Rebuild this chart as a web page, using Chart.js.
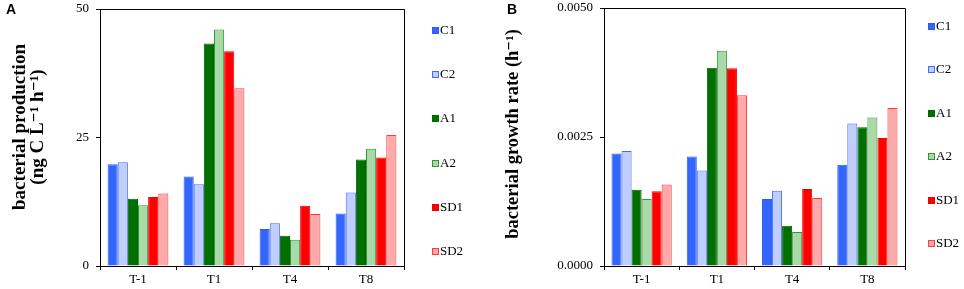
<!DOCTYPE html>
<html>
<head>
<meta charset="utf-8">
<script src="https://cdn.jsdelivr.net/npm/chart.js@4/dist/chart.umd.min.js"></script>
<style>
  html, body { margin: 0; padding: 0; background: #fff; }
  #wrap { position: relative; width: 964px; height: 289px; overflow: hidden; }
  canvas { position: absolute; top: 0; }
</style>
</head>
<body>
<div id="wrap">
  <canvas id="chartA" width="480" height="289" style="left:0px"></canvas>
  <canvas id="chartB" width="484" height="289" style="left:480px"></canvas>
</div>
<script>
// ---- data ----
const categories = ['T-1', 'T1', 'T4', 'T8'];
const seriesNames = ['C1', 'C2', 'A1', 'A2', 'SD1', 'SD2'];

// Panel A: bacterial production (ng C L-1 h-1)
const prodC1  = [19.8, 17.4, 7.2, 10.2];
const prodC2  = [20.2, 15.9, 8.3, 14.3];
const prodA1  = [13.1, 43.3, 5.9, 20.7];
const prodA2  = [11.8, 46.0, 5.1, 22.8];
const prodSD1 = [13.4, 41.8, 11.7, 21.1];
const prodSD2 = [14.1, 34.6, 10.1, 25.5];
const prodTicks = [0, 25, 50];
const prodTitle = ['bacterial production', '(ng C L\u207B\u00B9 h\u207B\u00B9)'];

// Panel B: bacterial growth rate (h-1)
const rateC1  = [0.00218, 0.00212, 0.00130, 0.00196];
const rateC2  = [0.00223, 0.00185, 0.00146, 0.00276];
const rateA1  = [0.00148, 0.00384, 0.00078, 0.00269];
const rateA2  = [0.00130, 0.00417, 0.00066, 0.00288];
const rateSD1 = [0.00145, 0.00383, 0.00149, 0.00248];
const rateSD2 = [0.00158, 0.00331, 0.00132, 0.00306];
const rateTicks = [0, 0.0025, 0.005];
const rateTitle = ['bacterial growth rate (h\u207B\u00B9)'];

// ---- styles ----
const fills   = ['#3366ff', '#c0cdff', '#007000', '#a9d8a9', '#ff0000', '#ffaaaa'];
const borders = ['#2b5cf0', '#3d6cff', '#006400', '#2f9a2f', '#f00000', '#ff3b3b'];
const serif = "'Liberation Serif', 'Times New Roman', 'DejaVu Serif', serif";

function makeDatasets(seriesValues) {
  return seriesValues.map((vals, i) => ({
    label: seriesNames[i],
    data: vals,
    backgroundColor: fills[i],
    borderColor: borders[i],
    borderWidth: 1,
    categoryPercentage: 0.8,
    barPercentage: 1.0
  }));
}

// frame + axis title + custom legend + panel letter
const decorPlugin = {
  id: 'decor',
  afterDraw(chart, args, opts) {
    const ctx = chart.ctx;
    const a = chart.chartArea;
    ctx.save();
    ctx.strokeStyle = '#000';
    ctx.lineWidth = 1;
    ctx.beginPath();
    ctx.moveTo(Math.round(a.left) + 0.5, Math.round(a.top) + 0.5);
    ctx.lineTo(Math.round(a.right) + 0.5, Math.round(a.top) + 0.5);
    ctx.lineTo(Math.round(a.right) + 0.5, Math.round(a.bottom) + 0.5);
    ctx.stroke();
    // rotated y-axis title
    ctx.save();
    ctx.font = 'bold ' + opts.titleSize + 'px ' + serif;
    ctx.fillStyle = '#000';
    ctx.textAlign = 'center';
    ctx.textBaseline = 'middle';
    opts.title.forEach((line, i) => {
      ctx.save();
      ctx.translate(opts.titleX + i * opts.titleStep, opts.titleY);
      ctx.rotate(-Math.PI / 2);
      ctx.fillText(line, 0, 0);
      ctx.restore();
    });
    ctx.restore();
    // legend
    ctx.font = '13px ' + serif;
    ctx.textBaseline = 'middle';
    ctx.textAlign = 'left';
    chart.data.datasets.forEach((ds, i) => {
      const y = Math.round(opts.y0 + i * opts.step);
      const x = opts.x;
      ctx.fillStyle = ds.backgroundColor;
      ctx.fillRect(x, y - 4, 7, 7);
      ctx.strokeStyle = ds.borderColor;
      ctx.strokeRect(x + 0.5, y - 3.5, 6, 6);
      ctx.fillStyle = '#000';
      ctx.fillText(ds.label, x + 8, y);
    });
    ctx.font = "bold 14px 'Liberation Sans', Arial, sans-serif";
    ctx.textBaseline = 'alphabetic';
    ctx.fillStyle = '#000';
    ctx.fillText(opts.letter, opts.letterX, 14);
    ctx.restore();
  }
};

function makeChart(id, seriesValues, yMax, tickVals, tickFmt, axisW, pad, decor) {
  return new Chart(document.getElementById(id), {
    type: 'bar',
    data: { labels: categories, datasets: makeDatasets(seriesValues) },
    plugins: [decorPlugin],
    options: {
      responsive: false,
      animation: false,
      devicePixelRatio: 1,
      layout: { padding: pad },
      plugins: {
        legend: { display: false },
        tooltip: { enabled: false },
        decor: decor
      },
      scales: {
        x: {
          offset: true,
          grid: { display: true, offset: true, drawOnChartArea: false, drawTicks: true, tickLength: 4, color: '#000' },
          border: { display: true, color: '#000', width: 1 },
          ticks: { color: '#000', font: { family: serif, size: 13 }, padding: 2, maxRotation: 0 },
          afterFit(s) { s.height = 23; s.paddingLeft = 0; s.paddingRight = 0; }
        },
        y: {
          min: 0, max: yMax,
          afterBuildTicks(s) { s.ticks = tickVals.map(v => ({ value: v })); },
          grid: { display: true, drawOnChartArea: false, drawTicks: true, tickLength: 4, color: '#000' },
          border: { display: true, color: '#000', width: 1 },
          ticks: { color: '#000', font: { family: serif, size: 13 }, padding: 7, callback: tickFmt },
          afterFit(s) { s.width = axisW; s.paddingTop = 0; s.paddingBottom = 0; }
        }
      }
    }
  });
}

const chartA = makeChart('chartA',
  [prodC1, prodC2, prodA1, prodA2, prodSD1, prodSD2],
  50, prodTicks, v => String(v), 100,
  { left: 0, top: 9, right: 76, bottom: 0 },
  { title: prodTitle, titleSize: 19, titleX: 20, titleStep: 18, titleY: 127,
    x: 432, y0: 31, step: 44.2, letter: 'A', letterX: 6 });

const chartB = makeChart('chartB',
  [rateC1, rateC2, rateA1, rateA2, rateSD1, rateSD2],
  0.005, rateTicks, v => Number(v).toFixed(4), 124,
  { left: 0, top: 8, right: 59, bottom: 0 },
  { title: rateTitle, titleSize: 18.5, titleX: 33, titleStep: 0, titleY: 134,
    x: 448, y0: 27, step: 43.4, letter: 'B', letterX: 27 });
</script>
</body>
</html>
